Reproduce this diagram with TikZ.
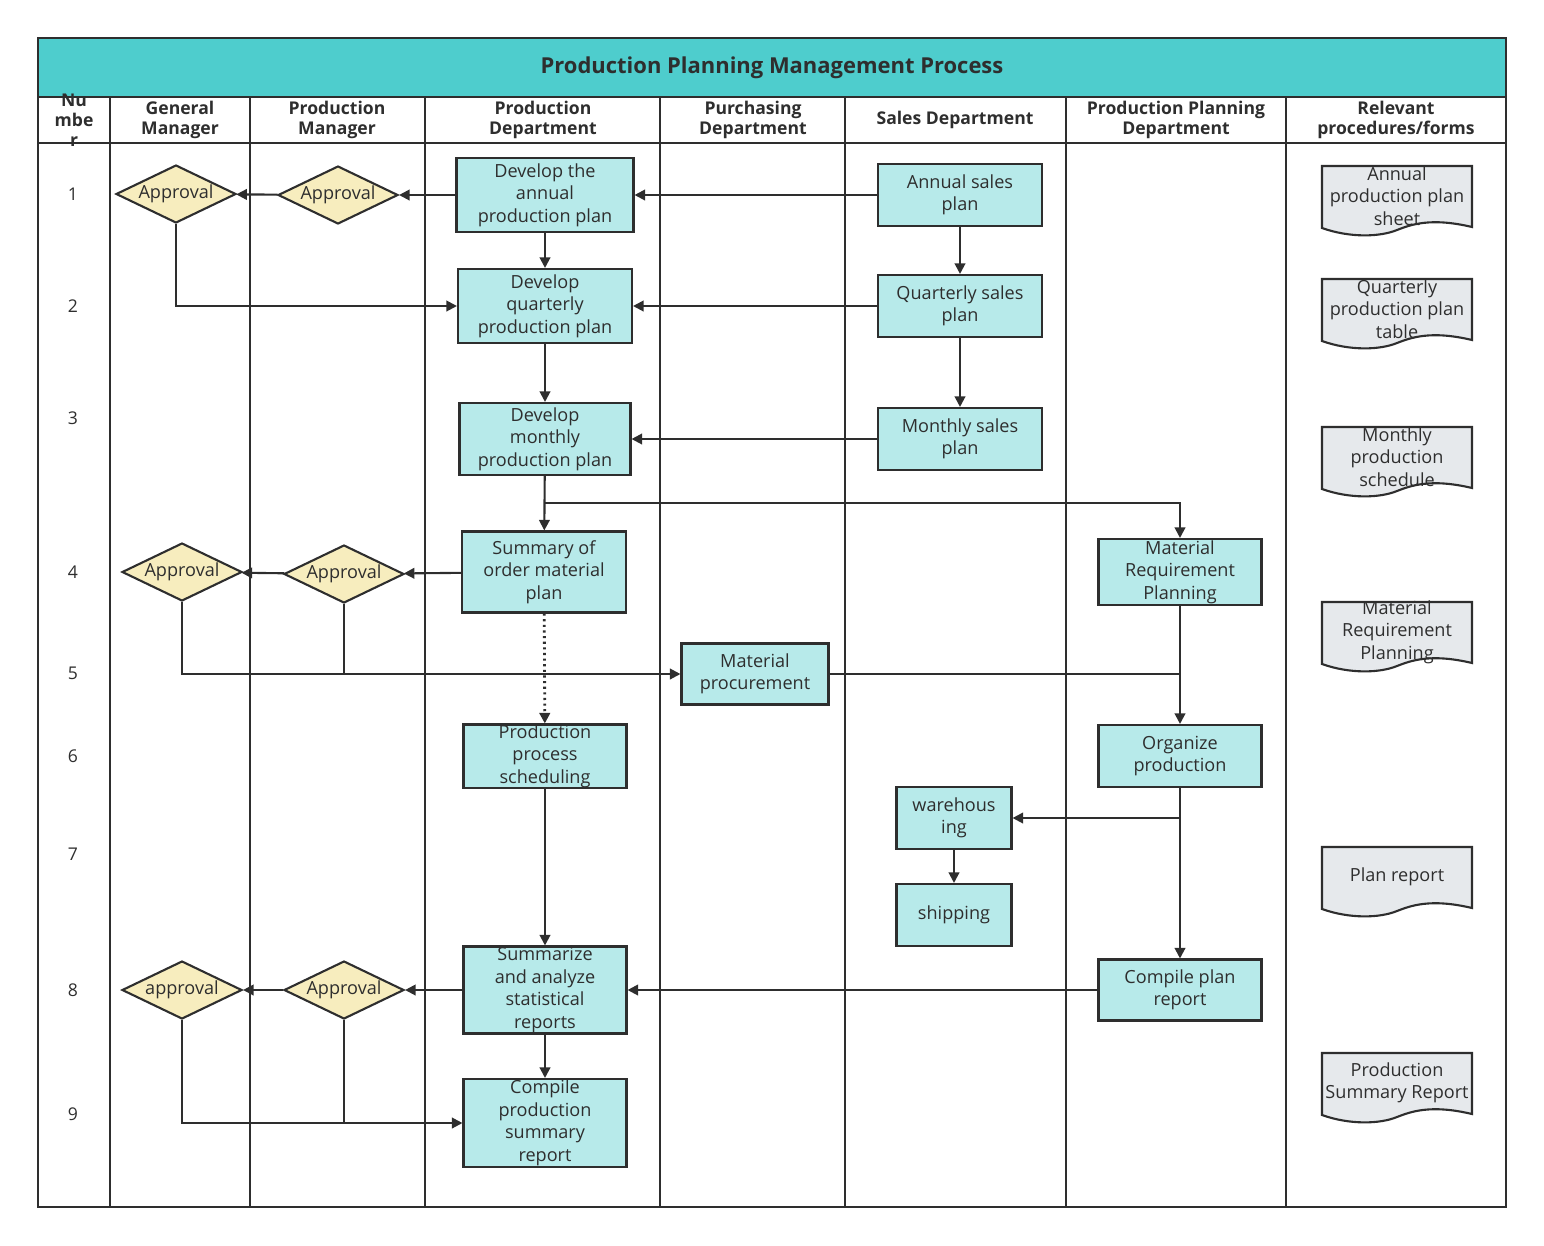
\documentclass[tikz,border=0pt]{standalone}
\usepackage{fontspec}
\setmainfont{Open Sans}
\usetikzlibrary{shapes.geometric,arrows.meta}
\definecolor{teal1}{HTML}{4ECDCD}
\definecolor{boxf}{HTML}{B7EAEA}
\definecolor{dia}{HTML}{F7EDBE}
\definecolor{docf}{HTML}{E6E9EC}
\definecolor{ln}{HTML}{2E2E2E}
\begin{document}
\begin{tikzpicture}[x=0.02cm,y=-0.02cm,
  font=\fontsize{10.3}{12.8}\selectfont, text=ln,
  box/.style={draw=ln,line width=1.2pt,fill=boxf,align=center,inner sep=0pt},
  dm/.style={diamond,aspect=2.1,draw=ln,line width=1.2pt,fill=dia,minimum width=2.4cm,minimum height=1.16cm,inner sep=0pt},
  ar/.style={draw=ln,line width=1.2pt,-{Triangle[length=6pt,width=6pt]}},
  ln/.style={draw=ln,line width=1.2pt},
  hd/.style={font=\fontsize{10}{11.5}\selectfont\bfseries,align=center},
  num/.style={font=\fontsize{10}{11}\selectfont}]
\useasboundingbox (0,0) rectangle (1544,1245);
% frame
\fill[teal1] (38,38) rectangle (1506,97);
\draw[ln,line width=1.6pt] (38,38) rectangle (1506,1207);
\draw[ln,line width=1.6pt] (38,97) -- (1506,97) (38,143) -- (1506,143);
\foreach \x in {110,250,425,660,845,1066,1286} \draw[ln,line width=1.6pt] (\x,97) -- (\x,1207);
\node[font=\fontsize{12.5}{14}\selectfont\bfseries] (title) at (772,68) {Production Planning Management Process};
\node[hd,text width=1cm] (h0) at (74,120) {Nu\\mbe\\r};
\node[hd] (h1) at (180,120) {General\\Manager};
\node[hd] (h2) at (337,120) {Production\\Manager};
\node[hd] (h3) at (543,120) {Production\\Department};
\node[hd] (h4) at (753,120) {Purchasing\\Department};
\node[hd] (h5) at (955,120) {Sales Department};
\node[hd] (h6) at (1176,120) {Production Planning\\Department};
\node[hd] (h7) at (1396,120) {Relevant\\procedures/forms};
\foreach \n/\y in {1/194,2/306,3/418,4/572,5/673,6/756,7/854,8/990,9/1114} \node[num] (n\n) at (73,\y) {\n};
% nodes
\node[box,minimum width=3.54cm,minimum height=1.48cm] (da) at (545,195) {Develop the\\annual\\production plan};
\node[box,minimum width=3.28cm,minimum height=1.24cm] (as) at (960,195) {Annual sales\\plan};
\node[dm] (pa1) at (338,195) {Approval};
\node[dm] (ga1) at (176,194) {Approval};
\node[box,minimum width=3.48cm,minimum height=1.48cm] (dq) at (545,306) {Develop\\quarterly\\production plan};
\node[box,minimum width=3.28cm,minimum height=1.24cm] (qs) at (960,306) {Quarterly sales\\plan};
\node[box,minimum width=3.42cm,minimum height=1.44cm] (dmn) at (545,439) {Develop\\monthly\\production plan};
\node[box,minimum width=3.28cm,minimum height=1.24cm] (ms) at (960,439) {Monthly sales\\plan};
\node[box,minimum width=3.28cm,minimum height=1.62cm] (so) at (544,572) {Summary of\\order material\\plan};
\node[dm] (pa4) at (344,574) {Approval};
\node[dm] (ga4) at (182,572) {Approval};
\node[box,minimum width=3.26cm,minimum height=1.32cm] (mrp) at (1180,572) {Material\\Requirement\\Planning};
\node[box,minimum width=2.94cm,minimum height=1.22cm] (mp) at (755,674) {Material\\procurement};
\node[box,minimum width=3.26cm,minimum height=1.24cm] (ps) at (545,756) {Production\\process\\scheduling};
\node[box,minimum width=3.26cm,minimum height=1.24cm] (op) at (1180,756) {Organize\\production};
\node[box,minimum width=2.3cm,minimum height=1.24cm] (wh) at (954,818) {warehous\\ing};
\node[box,minimum width=2.3cm,minimum height=1.24cm] (sh) at (954,915) {shipping};
\node[box,minimum width=3.26cm,minimum height=1.74cm] (sa) at (545,990) {Summarize\\and analyze\\statistical\\reports};
\node[dm] (pa8) at (344,990) {Approval};
\node[dm] (ga8) at (182,990) {approval};
\node[box,minimum width=3.26cm,minimum height=1.22cm] (cp) at (1180,990) {Compile plan\\report};
\node[box,minimum width=3.26cm,minimum height=1.76cm] (cs) at (545,1123) {Compile\\production\\summary\\report};
% documents
\foreach \nm/\y/\t in {d1/200/{Annual\\production plan\\sheet},d2/313/{Quarterly\\production plan\\table},d3/461/{Monthly\\production\\schedule},d4/636/{Material\\Requirement\\Planning},d5/881/{Plan report},d6/1087/{Production\\Summary Report}}{
  \draw[ln,line width=1.2pt,fill=docf] (1322,\y-34) -- (1472,\y-34) -- (1472,\y+27)
     .. controls (1430,\y+17) and (1410,\y+25) .. (1397,\y+30)
     .. controls (1380,\y+37) and (1350,\y+38) .. (1322,\y+28) -- cycle;
  \node[align=center,inner sep=0pt] (\nm) at (1397,\y-4) {\t};
}
% edges
\draw[ar] (as) -- (da);
\draw[ar] (da) -- (pa1);
\draw[ar] (pa1) -- (ga1);
\draw[ar] (as) -- (qs);
\draw[ar] (qs) -- (ms);
\draw[ar] (ga1.south) |- (dq.west);
\draw[ar] (qs) -- (dq);
\draw[ar] (da) -- (dq);
\draw[ar] (dq) -- (dmn);
\draw[ar] (ms) -- (dmn);
\draw[ar] (dmn) -- (so);
\coordinate (br) at (545,503);
\draw[ar] (br) -| (mrp.north);
\draw[ar] (so) -- (pa4);
\draw[ar] (pa4) -- (ga4);
\draw[ar] (ga4.south) |- (mp.west);
\draw[ln] (pa4.south) -- (344,674);
\draw[ar,dotted,line width=1.6pt] (so) -- (ps);
\draw[ar] (mrp) -- (op);
\draw[ln] (mp.east) -- (1180,674);
\draw[ar] (op) -- (cp);
\draw[ar] (1180,818) -- (wh.east);
\draw[ar] (wh) -- (sh);
\draw[ar] (ps) -- (sa);
\draw[ar] (cp) -- (sa);
\draw[ar] (sa) -- (pa8);
\draw[ar] (pa8) -- (ga8);
\draw[ar] (sa) -- (cs);
\draw[ar] (ga8.south) |- (cs.west);
\draw[ln] (pa8.south) -- (344,1124);
\end{tikzpicture}
\end{document}
